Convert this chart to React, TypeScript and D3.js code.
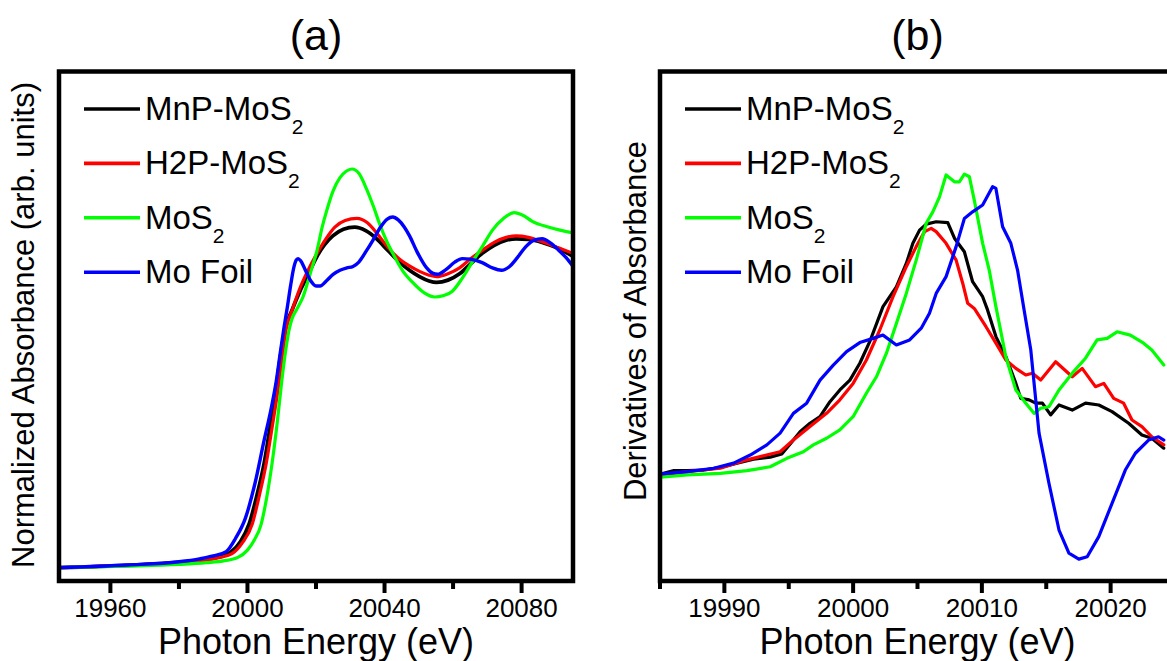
import React from "react";
import * as d3 from "d3";

type Pt = [number, number];

// ---------- Panel (a): normalized XANES (energy eV, absorbance arb. units) ----------
const mnpXanes: Pt[] = [
  [19945, 0.0], [19965, 0.008], [19980, 0.018], [19988, 0.028], [19992, 0.038], [19995, 0.052],
  [19998, 0.09], [20000.5, 0.15], [20002.8, 0.25], [20004.9, 0.36], [20006.7, 0.49], [20008.4, 0.62],
  [20009.8, 0.74], [20011.0, 0.82], [20013.0, 0.885], [20015.3, 0.95], [20017.8, 1.01], [20020.3, 1.07],
  [20022.5, 1.11], [20024.9, 1.14], [20028.0, 1.163], [20031.3, 1.17], [20034.5, 1.158], [20037.7, 1.13],
  [20041.0, 1.09], [20044.4, 1.05], [20047.5, 1.02], [20050.2, 1.0], [20053.0, 0.985], [20055.2, 0.98],
  [20058.5, 0.988], [20061.9, 1.01], [20065.2, 1.045], [20068.5, 1.08], [20072.0, 1.108], [20075.5, 1.125],
  [20078.4, 1.13], [20082.0, 1.128], [20086.0, 1.118], [20090.5, 1.098], [20095, 1.07],
];
const h2pXanes: Pt[] = [
  [19945, 0.0], [19965, 0.008], [19980, 0.017], [19988, 0.026], [19992, 0.035], [19995.5, 0.048],
  [19998.5, 0.085], [20001.4, 0.15], [20003.5, 0.25], [20005.5, 0.36], [20007.3, 0.49], [20009.0, 0.62],
  [20010.3, 0.74], [20011.3, 0.82], [20013.2, 0.89], [20015.3, 0.96], [20017.8, 1.025], [20020.3, 1.08],
  [20022.9, 1.13], [20025.5, 1.17], [20028.5, 1.193], [20031.9, 1.2], [20035.0, 1.185], [20037.7, 1.15],
  [20041.0, 1.1], [20044.4, 1.06], [20047.5, 1.035], [20050.2, 1.018], [20053.0, 1.005], [20055.2, 1.0],
  [20058.5, 1.01], [20061.9, 1.03], [20065.2, 1.062], [20068.5, 1.09], [20072.0, 1.118], [20075.5, 1.135],
  [20078.4, 1.14], [20082.0, 1.135], [20086.0, 1.12], [20090.5, 1.1], [20095, 1.08],
];
const mos2Xanes: Pt[] = [
  [19945, 0.0], [19965, 0.005], [19980, 0.011], [19988, 0.017], [19993, 0.023], [19997.2, 0.035],
  [20000.0, 0.06], [20002.0, 0.095], [20003.9, 0.145], [20005.6, 0.24], [20007.2, 0.36], [20008.7, 0.5],
  [20010.0, 0.64], [20011.2, 0.75], [20012.2, 0.82], [20013.0, 0.855], [20014.5, 0.89], [20016.2, 0.93],
  [20018.3, 1.01], [20020.3, 1.09], [20021.8, 1.17], [20023.2, 1.23], [20025.0, 1.295], [20027.0, 1.34],
  [20028.8, 1.362], [20030.5, 1.37], [20032.5, 1.355], [20034.8, 1.3], [20036.8, 1.24], [20038.6, 1.18],
  [20040.5, 1.125], [20042.4, 1.08], [20045.3, 1.02], [20048.2, 0.98], [20051.5, 0.945], [20054.6, 0.93],
  [20057.3, 0.935], [20059.8, 0.95], [20062.7, 0.995], [20065.6, 1.05], [20068.6, 1.105], [20071.5, 1.16],
  [20074.7, 1.2], [20077.8, 1.22], [20080.5, 1.21], [20083.1, 1.19], [20088.0, 1.17], [20095, 1.15],
];
const moFoilXanes: Pt[] = [
  [19945, 0.0], [19965, 0.009], [19980, 0.02], [19986, 0.03], [19990, 0.04], [19993.8, 0.055],
  [19996.5, 0.1], [19999.4, 0.17], [20002.2, 0.29], [20004.9, 0.44], [20006.8, 0.54], [20008.4, 0.64],
  [20009.6, 0.74], [20010.6, 0.82], [20011.7, 0.9], [20012.6, 0.97], [20013.6, 1.035], [20014.3, 1.058],
  [20014.8, 1.062], [20015.5, 1.055], [20016.8, 1.025], [20018.5, 0.985], [20020.0, 0.968], [20021.2, 0.968],
  [20023.0, 0.985], [20025.0, 1.008], [20027.0, 1.022], [20029.0, 1.03], [20030.8, 1.035], [20032.5, 1.05],
  [20034.5, 1.085], [20036.6, 1.125], [20038.8, 1.17], [20040.8, 1.198], [20042.4, 1.205], [20044.0, 1.195],
  [20045.8, 1.17], [20047.3, 1.14], [20049.5, 1.085], [20052.3, 1.03], [20054.0, 1.012], [20055.5, 1.008],
  [20058.0, 1.025], [20060.5, 1.05], [20062.7, 1.062], [20065.0, 1.06], [20068.5, 1.048], [20071.5, 1.03],
  [20074.1, 1.022], [20076.5, 1.035], [20078.4, 1.06], [20081.0, 1.1], [20083.5, 1.125], [20086.0, 1.13],
  [20088.5, 1.115], [20090.9, 1.09], [20093.0, 1.065], [20095, 1.035],
];

// ---------- Panel (b): derivatives of absorbance ----------
const mnpDeriv: Pt[] = [
  [19985.05, 0.0], [19986.08, 0.011], [19987.11, 0.011], [19988.4, 0.013], [19989.69, 0.022], [19990.98, 0.036],
  [19992.27, 0.049], [19993.56, 0.056], [19994.46, 0.067], [19995.11, 0.1], [19995.88, 0.141], [19996.65, 0.169],
  [19997.43, 0.191], [19998.2, 0.241], [19998.97, 0.28], [19999.75, 0.313], [20000.52, 0.369], [20001.29, 0.441],
  [20002.32, 0.558], [20003.36, 0.624], [20004.13, 0.702], [20004.64, 0.769], [20005.16, 0.813], [20005.68, 0.833],
  [20006.45, 0.841], [20007.35, 0.838], [20007.87, 0.786], [20008.64, 0.741], [20009.28, 0.641], [20010.06, 0.591],
  [20010.44, 0.547], [20011.09, 0.458], [20011.86, 0.391], [20012.64, 0.302], [20013.02, 0.252], [20013.67, 0.247],
  [20014.18, 0.236], [20014.7, 0.236], [20015.34, 0.197], [20015.99, 0.23], [20017.02, 0.213], [20018.05, 0.236],
  [20019.08, 0.23], [20020.11, 0.208], [20021.4, 0.169], [20022.43, 0.13], [20023.2, 0.119], [20024.13, 0.086],
];
const h2pDeriv: Pt[] = [
  [19985.05, -0.003], [19987.11, 0.008], [19989.69, 0.019], [19991.75, 0.047], [19994.33, 0.074], [19995.36, 0.113],
  [19996.65, 0.158], [19997.94, 0.202], [19998.97, 0.247], [20000.0, 0.302], [20001.03, 0.38], [20002.07, 0.48],
  [20003.1, 0.591], [20004.13, 0.691], [20004.9, 0.758], [20005.55, 0.808], [20006.06, 0.819], [20006.45, 0.808],
  [20007.22, 0.769], [20008.0, 0.713], [20008.51, 0.636], [20008.9, 0.569], [20009.41, 0.552], [20010.32, 0.491],
  [20011.09, 0.436], [20011.86, 0.38], [20012.64, 0.352], [20013.41, 0.33], [20013.93, 0.336], [20014.57, 0.313],
  [20015.73, 0.374], [20017.02, 0.324], [20017.79, 0.352], [20018.82, 0.291], [20019.47, 0.302], [20020.24, 0.252],
  [20021.01, 0.236], [20021.66, 0.18], [20022.43, 0.158], [20023.2, 0.124], [20024.13, 0.097],
];
const mos2Deriv: Pt[] = [
  [19985.05, -0.011], [19987.11, -0.003], [19989.69, 0.002], [19991.75, 0.011], [19993.56, 0.024], [19994.85, 0.052],
  [19996.14, 0.074], [19996.91, 0.097], [19997.94, 0.119], [19998.97, 0.147], [20000.0, 0.191], [20001.03, 0.269],
  [20001.81, 0.324], [20002.58, 0.402], [20003.36, 0.502], [20004.13, 0.602], [20004.9, 0.713], [20005.68, 0.836],
  [20006.19, 0.874], [20006.71, 0.924], [20007.22, 0.997], [20007.87, 0.974], [20008.25, 0.974], [20008.64, 1.0],
  [20009.03, 0.991], [20009.41, 0.913], [20010.06, 0.769], [20010.57, 0.68], [20011.09, 0.558], [20011.86, 0.391],
  [20012.64, 0.28], [20013.41, 0.236], [20014.05, 0.202], [20014.57, 0.219], [20015.21, 0.224], [20015.99, 0.28],
  [20017.02, 0.336], [20018.05, 0.386], [20018.95, 0.447], [20019.73, 0.452], [20020.5, 0.474], [20021.53, 0.463],
  [20022.56, 0.436], [20023.2, 0.413], [20024.13, 0.363],
];
const moFoilDeriv: Pt[] = [
  [19985.05, 0.0], [19987.11, 0.008], [19989.18, 0.019], [19990.72, 0.036], [19992.01, 0.063], [19993.3, 0.097],
  [19994.33, 0.136], [19995.36, 0.202], [19996.39, 0.236], [19997.43, 0.313], [19998.46, 0.363], [19999.49, 0.408],
  [20000.52, 0.438], [20001.55, 0.452], [20002.32, 0.463], [20003.36, 0.43], [20004.39, 0.447], [20005.29, 0.486],
  [20005.93, 0.536], [20006.45, 0.602], [20007.22, 0.658], [20008.0, 0.758], [20008.64, 0.852], [20009.28, 0.874],
  [20010.06, 0.897], [20010.83, 0.958], [20011.09, 0.952], [20011.61, 0.824], [20012.25, 0.769], [20012.77, 0.68],
  [20013.28, 0.547], [20013.8, 0.413], [20014.44, 0.136], [20015.21, -0.031], [20015.99, -0.187], [20016.76, -0.264],
  [20017.53, -0.284], [20018.18, -0.276], [20019.08, -0.209], [20020.11, -0.098], [20021.14, 0.013], [20021.92, 0.069],
  [20022.95, 0.113], [20023.72, 0.124], [20024.13, 0.113],
];

const seriesLabels = ["MnP-MoS", "H2P-MoS", "MoS", "Mo Foil"];
const seriesSubscripts = ["2", "2", "2", ""];
const seriesColors = ["#000000", "#ff0000", "#00ff00", "#0000ff"];

const majorTicksA = [19960, 20000, 20040, 20080];
const minorTicksA = [19980, 20020, 20060];
const majorTicksB = [19990, 20000, 20010, 20020];
const minorTicksB = [19985, 19995, 20005, 20015, 20025];

const FONT = '"Liberation Sans", Arial, Helvetica, sans-serif';

type PanelProps = {
  id: string;
  left: number;
  right: number;
  top: number;
  bottom: number;
  xDomain: [number, number];
  yDomain: [number, number];
  series: Pt[][];
  widths: number[];
  majorTicks: number[];
  minorTicks: number[];
  title: string;
  yLabel: string;
  yLabelX: number;
  yLabelY: number;
  smooth: boolean;
};

function Panel(p: PanelProps) {
  const x = d3.scaleLinear().domain(p.xDomain).range([p.left, p.right]);
  const y = d3.scaleLinear().domain(p.yDomain).range([p.bottom, p.top]);
  const line = d3
    .line<Pt>()
    .x((d) => x(d[0]))
    .y((d) => y(d[1]))
    .curve(p.smooth ? d3.curveMonotoneX : d3.curveLinear);
  const cx = (p.left + p.right) / 2;
  const legendTop = 109;
  const legendGap = 54.4;
  return (
    <g>
      <defs>
        <clipPath id={p.id}>
          <rect x={p.left} y={p.top} width={p.right - p.left} height={p.bottom - p.top} />
        </clipPath>
      </defs>
      <text x={cx} y={50} fontSize={43} textAnchor="middle" fontFamily={FONT}>
        {p.title}
      </text>
      <g clipPath={`url(#${p.id})`}>
        {p.series.map((s, i) => (
          <path
            key={i}
            d={line(s) || ""}
            fill="none"
            stroke={seriesColors[i]}
            strokeWidth={p.widths[i]}
            strokeLinejoin="round"
            strokeLinecap="round"
          />
        ))}
      </g>
      {seriesLabels.map((lab, i) => {
        const ly = legendTop + i * legendGap;
        return (
          <g key={lab}>
            <line x1={p.left + 25} x2={p.left + 81} y1={ly} y2={ly} stroke={seriesColors[i]} strokeWidth={3.6} />
            <text x={p.left + 86} y={ly + 11} fontSize={33} fontFamily={FONT} fill="#000">
              {lab}
              {seriesSubscripts[i] ? (
                <tspan fontSize={21} dy={14}>
                  {seriesSubscripts[i]}
                </tspan>
              ) : null}
            </text>
          </g>
        );
      })}
      <rect
        x={p.left}
        y={p.top}
        width={p.right - p.left}
        height={p.bottom - p.top}
        fill="none"
        stroke="#000"
        strokeWidth={4.5}
      />
      {p.majorTicks.map((t) => (
        <g key={"M" + t}>
          <line x1={x(t)} x2={x(t)} y1={p.bottom} y2={p.bottom + 12} stroke="#000" strokeWidth={4} />
          <text x={x(t)} y={617} fontSize={26} textAnchor="middle" fontFamily={FONT}>
            {t}
          </text>
        </g>
      ))}
      {p.minorTicks.map((t) => (
        <line key={"m" + t} x1={x(t)} x2={x(t)} y1={p.bottom} y2={p.bottom + 8} stroke="#000" strokeWidth={4} />
      ))}
      <text x={cx} y={654} fontSize={36} textAnchor="middle" fontFamily={FONT}>
        Photon Energy (eV)
      </text>
      <text
        transform={`translate(${p.yLabelX},${p.yLabelY}) rotate(-90)`}
        fontSize={31}
        textAnchor="middle"
        fontFamily={FONT}
      >
        {p.yLabel}
      </text>
    </g>
  );
}

export default function App() {
  return (
    <svg
      width={1167}
      height={661}
      viewBox="0 0 1167 661"
      style={{ position: "absolute", left: 0, top: 0, background: "#fff" }}
    >
      <rect x={0} y={0} width={1167} height={661} fill="#fff" />
      <Panel
        id="clipA"
        left={59}
        right={573}
        top={71.5}
        bottom={581}
        xDomain={[19945, 20095]}
        yDomain={[-0.046, 1.705]}
        series={[mnpXanes, h2pXanes, mos2Xanes, moFoilXanes]}
        widths={[3.8, 3.2, 3.2, 3.4]}
        majorTicks={majorTicksA}
        minorTicks={minorTicksA}
        title="(a)"
        yLabel="Normalized Absorbance (arb. units)"
        yLabelX={34}
        yLabelY={325}
        smooth={true}
      />
      <Panel
        id="clipB"
        left={660}
        right={1175}
        top={71.5}
        bottom={581}
        xDomain={[19985, 20025]}
        yDomain={[-0.357, 1.342]}
        series={[mnpDeriv, h2pDeriv, mos2Deriv, moFoilDeriv]}
        widths={[3.2, 3.2, 3.2, 3.2]}
        majorTicks={majorTicksB}
        minorTicks={minorTicksB}
        title="(b)"
        yLabel="Derivatives of Absorbance"
        yLabelX={646}
        yLabelY={321}
        smooth={false}
      />
    </svg>
  );
}
